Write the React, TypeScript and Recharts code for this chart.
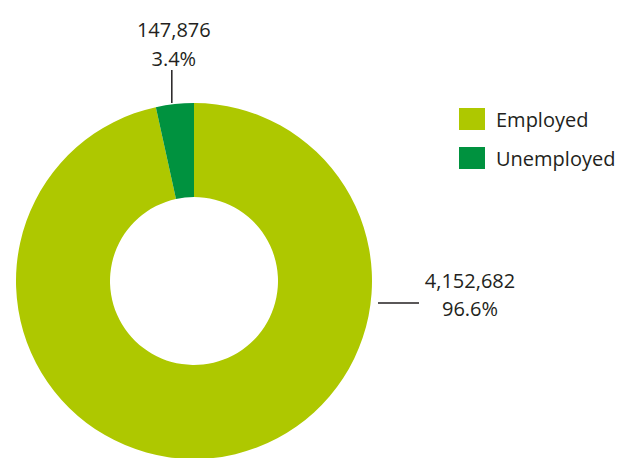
import React from 'react';
import { PieChart, Pie, Cell, Legend } from 'recharts';

const categories = ['Employed', 'Unemployed'];
const values = [4152682, 147876];
const colors = ['#aec800', '#00923f'];

const data = categories.map((name, i) => ({ name, value: values[i] }));

const FONT = '"Open Sans", sans-serif';
const TEXT = '#231f20';

const renderLabel = (props: any) => {
  const { cx, cy, outerRadius, midAngle, index, value, percent } = props;
  const pct = `${(percent * 100).toFixed(1)}%`;
  const num = Number(value).toLocaleString('en-US');
  if (index === 1) {
    const rad = (Math.PI / 180) * midAngle;
    const x = cx + outerRadius * Math.cos(rad) - 3;
    const top = cy - outerRadius;
    return (
      <g>
        <line x1={x} y1={top} x2={x} y2={top - 33} stroke={TEXT} strokeWidth={1.5} />
        <text x={x + 2} y={top - 74} textAnchor="middle" dominantBaseline="central" fill={TEXT} fontSize={20} fontFamily={FONT}>
          {num}
        </text>
        <text x={x + 2} y={top - 45} textAnchor="middle" dominantBaseline="central" fill={TEXT} fontSize={20} fontFamily={FONT}>
          {pct}
        </text>
      </g>
    );
  }
  const x0 = cx + outerRadius + 6;
  const ly = cy + 22;
  return (
    <g>
      <line x1={x0} y1={ly} x2={x0 + 41} y2={ly} stroke={TEXT} strokeWidth={1.5} />
      <text x={x0 + 92} y={ly - 23} textAnchor="middle" dominantBaseline="central" fill={TEXT} fontSize={20} fontFamily={FONT}>
        {num}
      </text>
      <text x={x0 + 92} y={ly + 5} textAnchor="middle" dominantBaseline="central" fill={TEXT} fontSize={20} fontFamily={FONT}>
        {pct}
      </text>
    </g>
  );
};

const renderLegend = () => (
  <div style={{ fontFamily: FONT }}>
    {categories.map((c, i) => (
      <div key={c} style={{ display: 'flex', alignItems: 'center', height: 22, marginBottom: 17 }}>
        <div style={{ width: 26, height: 22, background: colors[i], marginRight: 11 }} />
        <span style={{ fontSize: 20, color: TEXT }}>{c}</span>
      </div>
    ))}
  </div>
);

export default function App() {
  return (
    <div style={{ position: 'absolute', left: 0, top: 0, width: 624, height: 458, background: '#fff', overflow: 'hidden' }}>
      <PieChart width={624} height={458}>
        <Pie
          data={data}
          dataKey="value"
          nameKey="name"
          cx={189}
          cy={276}
          outerRadius={178}
          innerRadius={84}
          startAngle={90}
          endAngle={-270}
          stroke="none"
          label={renderLabel}
          labelLine={false}
          isAnimationActive={false}
        >
          {data.map((d, i) => (
            <Cell key={d.name} fill={colors[i]} />
          ))}
        </Pie>
        <Legend content={renderLegend} wrapperStyle={{ left: 459, top: 108, width: 170 }} />
      </PieChart>
    </div>
  );
}
